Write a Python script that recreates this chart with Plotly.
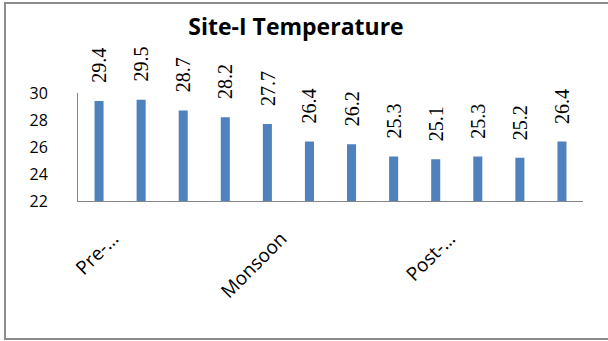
import plotly.graph_objects as go

# Monthly mean temperature at Site-I across the three seasons
positions = list(range(12))
temperatures = [29.4, 29.5, 28.7, 28.2, 27.7, 26.4, 26.2, 25.3, 25.1, 25.3, 25.2, 26.4]
season_ticks = [0, 4, 8]
season_labels = ["Pre-…", "Monsoon", "Post-…"]
y_ticks = [22, 24, 26, 28, 30]

W, H = 608, 341
ML, MR, MT, MB = 78, 25, 93, 140

fig = go.Figure(
    go.Bar(
        x=positions,
        y=temperatures,
        marker=dict(color="#4F81BD", line=dict(width=0)),
        hoverinfo="x+y",
    )
)

# value labels, rotated and lifted above each bar
for xv, yv in zip(positions, temperatures):
    fig.add_annotation(
        x=xv, y=yv, text=f"{yv:.1f}", textangle=-90,
        showarrow=False, yanchor="bottom", xanchor="center", yshift=16,
        font=dict(family="Liberation Serif, Times New Roman, serif", size=20, color="#000000"),
    )

# chart-area frame
pw, ph = W - ML - MR, H - MT - MB
def px_x(p):
    return (p - ML) / pw
def px_y(p):
    return (H - MB - p) / ph
fig.add_shape(
    type="rect", xref="paper", yref="paper",
    x0=px_x(5), x1=px_x(615), y0=px_y(339), y1=px_y(3),
    line=dict(color="#8c8c8c", width=2), fillcolor="rgba(0,0,0,0)", layer="below",
)

fig.update_layout(
    width=W, height=H,
    margin=dict(l=ML, r=MR, t=MT, b=MB, autoexpand=False),
    paper_bgcolor="white", plot_bgcolor="white",
    bargap=0.785,
    showlegend=False,
    title=dict(
        text="<b>Site-I Temperature</b>", x=296 / W, xanchor="center",
        y=1 - 27 / H, yanchor="middle", yref="container",
        font=dict(family="Open Sans", size=23, color="#000000"),
    ),
    xaxis=dict(
        range=[-0.5, 11.5], tickmode="array", tickvals=season_ticks, ticktext=season_labels,
        tickangle=-45, showgrid=False, zeroline=False, showline=True,
        linecolor="#868686", linewidth=1, ticks="", ticklabelshift=14, ticklabelstandoff=18,
        tickfont=dict(family="Open Sans", size=19, color="#000000"),
    ),
    yaxis=dict(
        range=[22, 30], tickmode="array", tickvals=y_ticks,
        showgrid=False, zeroline=False, showline=True, linecolor="#868686", linewidth=1,
        ticks="", ticklabelstandoff=26,
        tickfont=dict(family="Open Sans", size=16, color="#000000"),
    ),
)

fig.write_html("out.html")
